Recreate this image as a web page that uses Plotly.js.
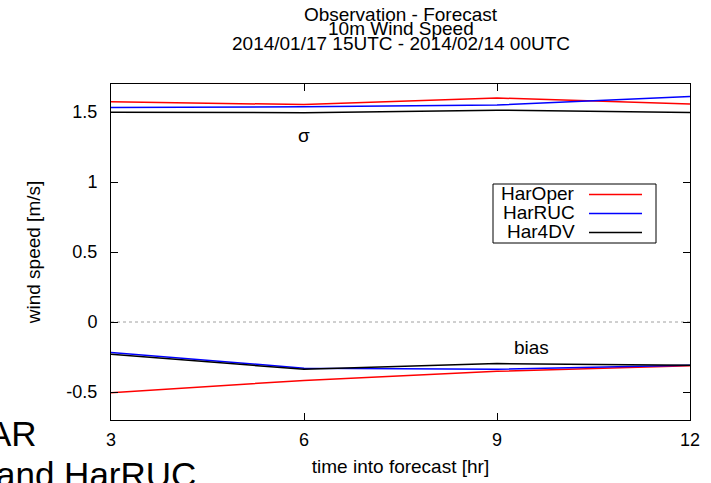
<!DOCTYPE html>
<html>
<head>
<meta charset="utf-8">
<script src="https://cdn.plot.ly/plotly-3.0.1.min.js"></script>
<style>html,body{margin:0;padding:0;background:#fff;}#chart{width:711px;height:483px;}</style>
</head>
<body>
<div id="chart"></div>
<script>
// ---- data ----
const hours = [3, 6, 9, 12];
const seriesNames = ["HarOper", "HarRUC", "Har4DV"];
const seriesColors = ["#ff0000", "#0000ff", "#000000"];
const sigmaHarOper = [1.573, 1.553, 1.600, 1.558];
const sigmaHarRUC  = [1.533, 1.537, 1.550, 1.610];
const sigmaHar4DV  = [1.499, 1.495, 1.513, 1.497];
const biasHarOper  = [-0.506, -0.417, -0.352, -0.312];
const biasHarRUC   = [-0.217, -0.330, -0.338, -0.309];
const biasHar4DV   = [-0.230, -0.338, -0.297, -0.309];
const xTicks = [3, 6, 9, 12];
const yTicks = [-0.5, 0, 0.5, 1, 1.5];
const yTickLabels = ["-0.5", "0", "0.5", "1", "1.5"];
const titleLines = ["Observation - Forecast", "10m Wind Speed", "2014/01/17 15UTC - 2014/02/14 00UTC"];

const FONT = "Liberation Sans, Arial, sans-serif";
const FS = 19;
const W = 711, H = 483;
const L = 111, R = 690, T = 84, B = 420;
const px = x => (x - L) / (R - L);
const py = y => (B - y) / (B - T);

const sigma = [sigmaHarOper, sigmaHarRUC, sigmaHar4DV];
const bias = [biasHarOper, biasHarRUC, biasHar4DV];
const traces = [];
for (let i = 0; i < 3; i++) {
  traces.push({x: hours, y: sigma[i], type: "scatter", mode: "lines", name: seriesNames[i],
    line: {color: seriesColors[i], width: 1.5}, showlegend: false, hoverinfo: "skip"});
  traces.push({x: hours, y: bias[i], type: "scatter", mode: "lines", name: seriesNames[i],
    line: {color: seriesColors[i], width: 1.5}, showlegend: false, hoverinfo: "skip"});
}
const txtFont = {family: FONT, size: FS, color: "#000"};
const annotations = [];
const shapes = [];
// title lines 2,3
annotations.push({text: titleLines[1], xref: "paper", yref: "paper", x: px(400.5), y: py(29), xanchor: "center", yanchor: "middle", showarrow: false, font: txtFont});
annotations.push({text: titleLines[2], xref: "paper", yref: "paper", x: px(400.5), y: py(44), xanchor: "center", yanchor: "middle", showarrow: false, font: txtFont});
// labels
annotations.push({text: "σ", xref: "x", yref: "y", x: 6, y: 1.335, xanchor: "center", yanchor: "middle", showarrow: false, font: txtFont});
annotations.push({text: "bias", xref: "x", yref: "y", x: 9.53, y: -0.185, xanchor: "center", yanchor: "middle", showarrow: false, font: txtFont});
// zero line
shapes.push({type: "line", xref: "paper", yref: "y", x0: 0, x1: 1, y0: 0, y1: 0, line: {color: "#a0a0a0", width: 1, dash: "dot"}, layer: "below"});
// legend (gnuplot style: text then sample)
shapes.push({type: "rect", xref: "paper", yref: "paper", x0: px(493), x1: px(656), y0: py(243), y1: py(184), line: {color: "#000", width: 1}, fillcolor: "rgba(0,0,0,0)"});
const legY = [193.5, 212.5, 231.5];
for (let i = 0; i < 3; i++) {
  annotations.push({text: seriesNames[i], xref: "paper", yref: "paper", x: px(577), y: py(legY[i]), xanchor: "right", yanchor: "middle", showarrow: false, font: txtFont});
  shapes.push({type: "line", xref: "paper", yref: "paper", x0: px(589), x1: px(642), y0: py(legY[i] + 1), y1: py(legY[i] + 1), line: {color: seriesColors[i], width: 1.5}});
}
// stray slide text behind chart (cut at left/bottom)
const bigFont = {family: FONT, size: 35, color: "#000"};
annotations.push({text: "AR", xref: "paper", yref: "paper", x: px(39), y: py(447), xanchor: "right", yanchor: "bottom", showarrow: false, font: bigFont, yshift: -7.5});
annotations.push({text: "and HarRUC", xref: "paper", yref: "paper", x: px(-6), y: py(458), xanchor: "left", yanchor: "top", showarrow: false, font: bigFont, yshift: 5.5});

const axisCommon = {showgrid: false, zeroline: false, showline: true, linecolor: "#000", linewidth: 1, mirror: "allticks",
  ticks: "inside", ticklen: 7, tickcolor: "#000", tickwidth: 1, tickfont: {family: FONT, size: 18, color: "#000"}};
const layout = {
  width: W, height: H,
  margin: {l: L, r: W - R, t: T, b: H - B, pad: 0},
  paper_bgcolor: "#fff", plot_bgcolor: "#fff",
  showlegend: false,
  title: {text: titleLines[0], xref: "paper", x: 0.5, xanchor: "center", yref: "container", y: 1 - 14 / H, yanchor: "middle", font: txtFont},
  xaxis: Object.assign({}, axisCommon, {range: [3, 12], tickvals: xTicks, ticktext: xTicks.map(String), ticklabelstandoff: 3,
    title: {text: "time into forecast [hr]", font: txtFont, standoff: 11}}),
  yaxis: Object.assign({}, axisCommon, {range: [-0.7, 1.7], tickvals: yTicks, ticktext: yTickLabels, ticklabelstandoff: 9,
    title: {text: "wind speed [m/s]", font: txtFont, standoff: 20}}),
  annotations: annotations,
  shapes: shapes
};
Plotly.newPlot("chart", traces, layout, {staticPlot: true, displayModeBar: false});
</script>
</body>
</html>
